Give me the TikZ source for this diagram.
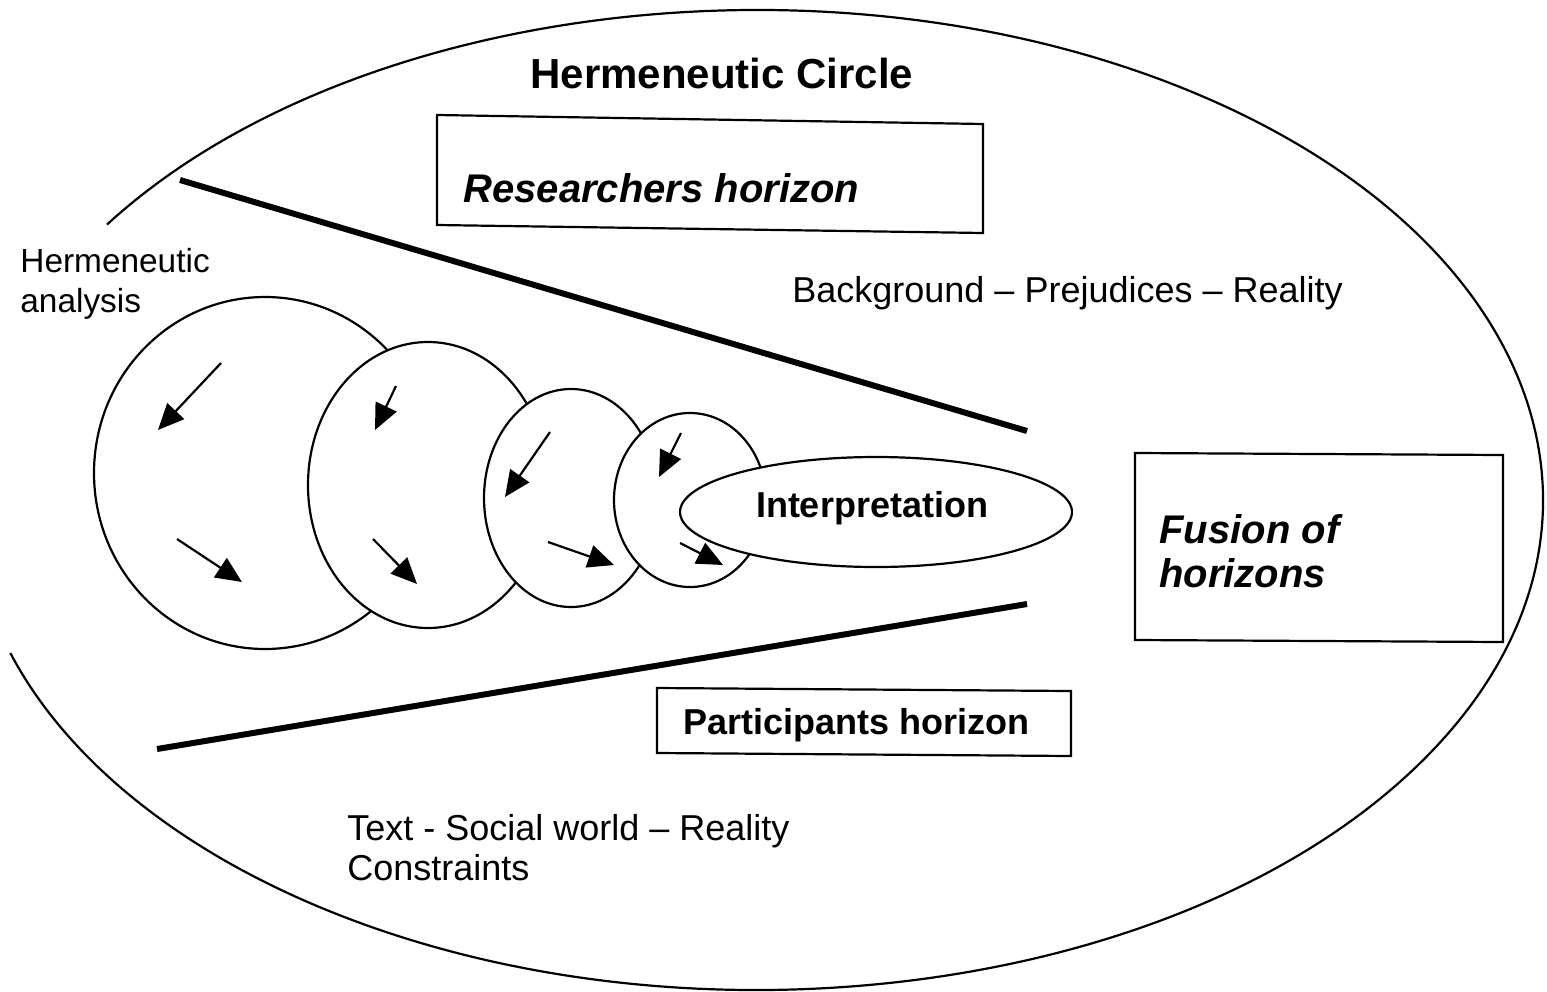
\documentclass[tikz,border=0pt]{standalone}
\usepackage{fontspec}
\setmainfont{Liberation Sans}
\usetikzlibrary{arrows.meta}
\begin{document}
\begin{tikzpicture}[x=0.5pt,y=-0.5pt,
  outline/.style={line width=1.1pt},
  bubble/.style={draw, line width=1.1pt, fill=white},
  framebox/.style={draw, line width=1.1pt},
  horizonline/.style={line width=3pt},
  flow/.style={line width=1.1pt, -{Triangle[length=13pt,width=11.5pt]}},
  label/.style={inner sep=0pt, font=\fontsize{18}{21}\selectfont},
  boldlabel/.style={label, font=\fontsize{18}{21}\selectfont\bfseries},
  italabel/.style={label, font=\fontsize{20}{23}\selectfont\bfseries\itshape}]
\useasboundingbox (0,0) rectangle (1547,991);

% outer hermeneutic circle, open on the left
\draw[outline] (757,500) ++(214.2:786 and 490)
  arc[start angle=214.2, end angle=521.8, x radius=786, y radius=490];

\node[label, anchor=base west, font=\fontsize{21}{24}\selectfont\bfseries]
  (title) at (530,88) {Hermeneutic Circle};

% horizon boxes
\draw[framebox] (437,115) -- (983,124) -- (983,233) -- (437,225) -- cycle;
\node[italabel, anchor=base west] (researchers) at (463,202) {Researchers horizon};

\draw[framebox] (1135,453) -- (1503,455) -- (1503,642) -- (1135,640) -- cycle;
\node[italabel, anchor=base west] (fusion1) at (1159,543) {Fusion of};
\node[italabel, anchor=base west] (fusion2) at (1159,587) {horizons};

\draw[framebox] (657,688) -- (1071,691) -- (1071,756) -- (657,753) -- cycle;
\node[boldlabel, anchor=base west] (participants) at (683,734) {Participants horizon};

% free texts
\node[label, anchor=base west] (background) at (792,302)
  {Background -- Prejudices -- Reality};
\node[label, anchor=base west] (text1) at (347,840) {Text - Social world -- Reality};
\node[label, anchor=base west] (text2) at (347,880) {Constraints};
\node[label, anchor=base west, font=\fontsize{16.7}{19}\selectfont] (ha1) at (20,272) {Hermeneutic};
\node[label, anchor=base west, font=\fontsize{16.7}{19}\selectfont] (ha2) at (20,312) {analysis};

% horizon lines
\coordinate (upA) at (180,180);
\coordinate (upB) at (1027,431);
\coordinate (loA) at (157,749);
\coordinate (loB) at (1027,604);
\draw[horizonline] (upA) -- (upB);
\draw[horizonline] (loA) -- (loB);

% shrinking circles of analysis
\draw[bubble] (265,473) ellipse[x radius=171, y radius=176];
\draw[bubble] (428,485) ellipse[x radius=120, y radius=143];
\draw[bubble] (571,498) ellipse[x radius=87, y radius=109];
\draw[bubble] (690,500) ellipse[x radius=76, y radius=87];
\draw[bubble] (876,512) ellipse[x radius=196, y radius=55];
\node[boldlabel, anchor=base] (interp) at (872,517) {Interpretation};

% movement arrows
\coordinate (a1s) at (221,363); \coordinate (a1e) at (158,430);
\coordinate (b1s) at (177,539); \coordinate (b1e) at (242,582);
\coordinate (a2s) at (396,386); \coordinate (a2e) at (375,430);
\coordinate (b2s) at (373,539); \coordinate (b2e) at (417,584);
\coordinate (a3s) at (550,432); \coordinate (a3e) at (505,497);
\coordinate (b3s) at (548,542); \coordinate (b3e) at (614,565);
\coordinate (a4s) at (681,433); \coordinate (a4e) at (659,477);
\coordinate (b4s) at (680,543); \coordinate (b4e) at (723,565);
\foreach \p in {a1,b1,a2,b2,a3,b3,a4,b4}
  \draw[flow] (\p s) -- (\p e);
\end{tikzpicture}
\end{document}
